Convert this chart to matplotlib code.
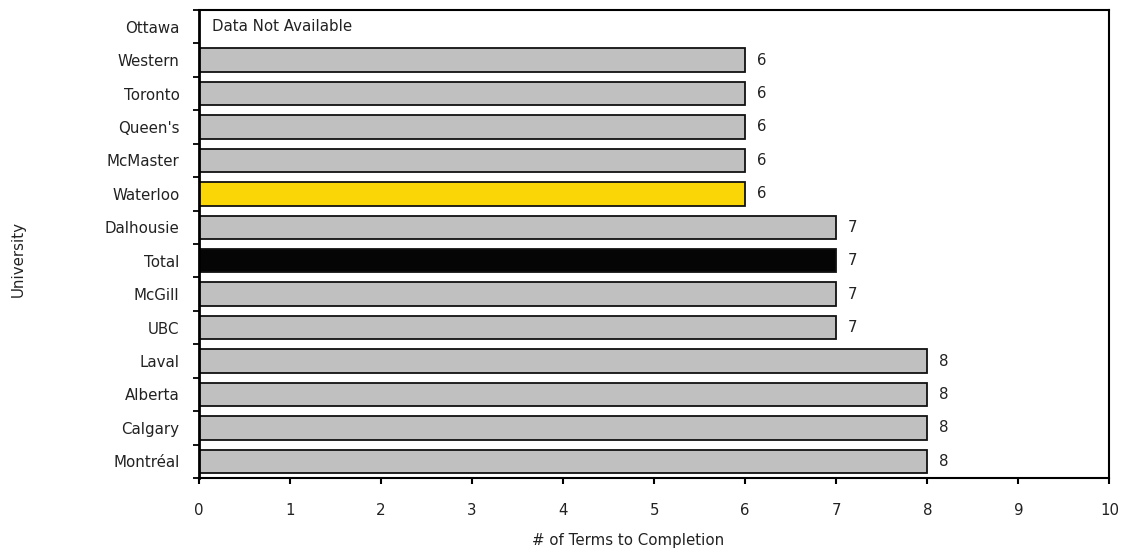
import numpy as np
import matplotlib
matplotlib.use("Agg")
import matplotlib.pyplot as plt

# 数据（从上到下）
universities = ["Ottawa", "Western", "Toronto", "Queen's", "McMaster", "Waterloo",
                "Dalhousie", "Total", "McGill", "UBC", "Laval", "Alberta",
                "Calgary", "Montréal"]
terms = [None, 6, 6, 6, 6, 6, 7, 7, 7, 7, 8, 8, 8, 8]
colors = ["#c0c0c0", "#c0c0c0", "#c0c0c0", "#c0c0c0", "#c0c0c0", "#fad607",
          "#c0c0c0", "#050505", "#c0c0c0", "#c0c0c0", "#c0c0c0", "#c0c0c0",
          "#c0c0c0", "#c0c0c0"]

plt.rcParams["font.family"] = ["DejaVu Sans"]
fs = 10.8
fig, ax = plt.subplots(figsize=(11.24, 5.52), dpi=100)
fig.subplots_adjust(left=0.177, right=0.987, top=0.982, bottom=0.134)

n = len(universities)
y = np.arange(n)[::-1]
for yi, v, c in zip(y, terms, colors):
    if v is None:
        ax.text(0.14, yi, "Data Not Available", va="center", ha="left",
                fontsize=fs, color="#222222")
        continue
    ax.barh(yi, v, height=0.7, color=c, edgecolor="#111111", linewidth=1.3)
    ax.text(v + 0.13, yi, str(v), va="center", ha="left", fontsize=fs,
            color="#222222")

ax.set_xlim(0, 10)
ax.set_ylim(-0.5, n - 0.5)
ax.set_xticks(range(11))
ax.set_yticks(y)
ax.set_yticklabels(universities)
ax.set_yticks(np.arange(-0.5, n, 1), minor=True)
ax.tick_params(axis="y", which="major", length=0, pad=14, labelsize=fs,
               labelcolor="#222222")
ax.tick_params(axis="y", which="minor", length=4, width=1.3, direction="out")
ax.tick_params(axis="x", length=4, width=1.5, direction="out", pad=14,
               labelsize=fs, labelcolor="#222222")
for s in ax.spines.values():
    s.set_linewidth(1.5)
ax.spines["left"].set_linewidth(2)

ax.set_xlabel("# of Terms to Completion", fontsize=fs, color="#222222")
ax.xaxis.set_label_coords(0.471, -0.117)
fig.text(0.016, 0.53, "University", rotation=90, va="center", ha="center",
         fontsize=fs, color="#222222")

plt.savefig("out.png", dpi=100)
